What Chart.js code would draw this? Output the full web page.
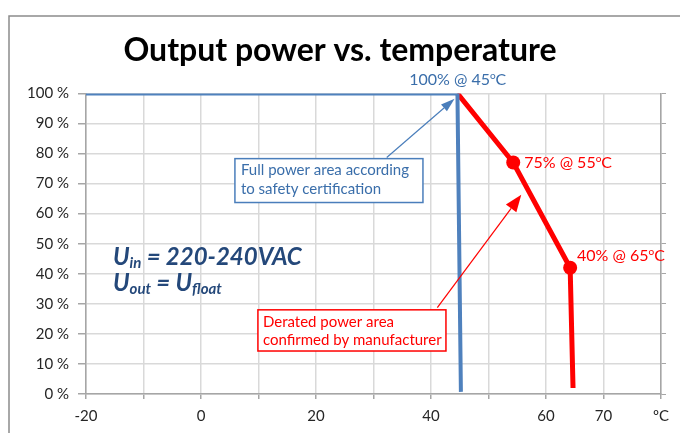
<!DOCTYPE html>
<html>
<head>
<meta charset="utf-8">
<script src="https://cdn.jsdelivr.net/npm/chart.js@4.4.1/dist/chart.umd.min.js"></script>
<style>
  html, body { margin: 0; padding: 0; background: #fff; }
  #wrap { width: 680px; height: 433px; }
</style>
</head>
<body>
<div id="wrap"><canvas id="chart" width="680" height="433"></canvas></div>
<script>
// full power curve (blue) and derated curve (red)
const fullTemp = [-20, 44.6, 45.2];
const fullPower = [100, 100, 0.7];
const deratedTemp = [44.6, 54.3, 64.2, 64.7];
const deratedPower = [100, 77, 42, 2];
const deratedMarkers = [0, 7, 7, 0];

const xTickLabels = { '-20': '-20', '0': '0', '20': '20', '40': '40', '60': '60', '70': '70', '80': 'ºC' };

const BLUE = '#4f81bd';
const RED = '#ff0000';
const FONT = 'Lato, "Open Sans", sans-serif';

function toPoints(xs, ys) {
  return xs.map((x, i) => ({ x: x, y: ys[i] }));
}

// draw text made of runs, each run may be smaller and shifted (sub/superscript)
function drawRuns(ctx, x, y, runs, base) {
  runs.forEach(r => {
    ctx.font = (base.style || '') + ' ' + (r.size || base.size) + 'px ' + FONT;
    ctx.fillText(r.t, x, y + (r.dy || 0));
    x += ctx.measureText(r.t).width;
  });
}

function arrow(ctx, x1, y1, x2, y2, color, headLen, headW) {
  const ang = Math.atan2(y2 - y1, x2 - x1);
  const bx = x2 - headLen * Math.cos(ang), by = y2 - headLen * Math.sin(ang);
  ctx.strokeStyle = color;
  ctx.fillStyle = color;
  ctx.lineWidth = 1.2;
  ctx.beginPath();
  ctx.moveTo(x1, y1);
  ctx.lineTo(bx, by);
  ctx.stroke();
  ctx.beginPath();
  ctx.moveTo(x2, y2);
  ctx.lineTo(bx + headW / 2 * Math.sin(ang), by - headW / 2 * Math.cos(ang));
  ctx.lineTo(bx - headW / 2 * Math.sin(ang), by + headW / 2 * Math.cos(ang));
  ctx.closePath();
  ctx.fill();
}

const notes = {
  id: 'notes',
  beforeDraw(chart) {
    const ctx = chart.ctx;
    ctx.save();
    ctx.strokeStyle = '#8c8c8c';
    ctx.lineWidth = 1.5;
    ctx.beginPath();
    ctx.moveTo(9, 433);
    ctx.lineTo(9, 16);
    ctx.lineTo(680, 16);
    ctx.stroke();
    ctx.restore();
  },
  afterDatasetsDraw(chart) {
    const ctx = chart.ctx;
    const sx = v => chart.scales.x.getPixelForValue(v);
    const sy = v => chart.scales.y.getPixelForValue(v);
    ctx.save();
    ctx.textBaseline = 'middle';

    // point labels
    ctx.fillStyle = '#3a6eaa';
    drawRuns(ctx, sx(36.2), sy(104.5), [{ t: '100% @ 45' }, { t: 'o', size: 10, dy: -4 }, { t: 'C' }], { size: 16 });
    ctx.fillStyle = RED;
    drawRuns(ctx, sx(56.2), sy(77), [{ t: '75% @ 55' }, { t: 'o', size: 10, dy: -4 }, { t: 'C' }], { size: 16 });
    drawRuns(ctx, sx(65.4), sy(46), [{ t: '40% @ 65' }, { t: 'o', size: 10, dy: -4 }, { t: 'C' }], { size: 16 });

    // boxes
    ctx.lineWidth = 1.5;
    ctx.strokeStyle = '#4a7ebb';
    ctx.fillStyle = '#fff';
    let l = sx(5.9), t = sy(78.3), r = sx(38.6), b = sy(63.7);
    ctx.fillRect(l, t, r - l, b - t);
    ctx.strokeRect(l, t, r - l, b - t);
    ctx.fillStyle = '#3a6eaa';
    ctx.font = '15px ' + FONT;
    ctx.fillText('Full power area according', l + 6, t + 12);
    ctx.fillText('to safety certification', l + 6, t + 31);

    ctx.strokeStyle = RED;
    ctx.fillStyle = '#fff';
    l = sx(9.9); t = sy(28); r = sx(42.6); b = sy(14.3);
    ctx.fillRect(l, t, r - l, b - t);
    ctx.strokeRect(l, t, r - l, b - t);
    ctx.fillStyle = RED;
    ctx.fillText('Derated power area', l + 5, t + 12);
    ctx.fillText('confirmed by manufacturer', l + 5, t + 30);

    // arrows
    arrow(ctx, sx(32.3), sy(78.7), sx(44.1), sy(98.2), '#4a7ebb', 14, 9);
    arrow(ctx, sx(41.1), sy(28.7), sx(55.7), sy(66.3), RED, 17, 13);

    // input / output voltage
    ctx.fillStyle = '#24487a';
    drawRuns(ctx, sx(-15.3), sy(45.4), [{ t: 'U' }, { t: 'in', size: 15, dy: 6 }, { t: ' = 220-240VAC' }], { size: 24, style: 'italic bold' });
    drawRuns(ctx, sx(-15.3), sy(37), [{ t: 'U' }, { t: 'out', size: 15, dy: 6 }, { t: ' = U' }, { t: 'float', size: 15, dy: 6 }], { size: 24, style: 'italic bold' });
    ctx.restore();
  }
};

new Chart(document.getElementById('chart'), {
  type: 'line',
  data: {
    datasets: [
      {
        label: 'Full power',
        data: toPoints(fullTemp, fullPower),
        borderColor: BLUE,
        borderWidth: 4,
        pointRadius: 0,
        tension: 0
      },
      {
        label: 'Derated',
        data: toPoints(deratedTemp, deratedPower),
        borderColor: RED,
        backgroundColor: RED,
        borderWidth: 5,
        pointRadius: deratedMarkers,
        pointBorderWidth: 0,
        tension: 0
      }
    ]
  },
  options: {
    responsive: false,
    animation: false,
    layout: { padding: 0 },
    scales: {
      x: {
        type: 'linear',
        min: -20,
        max: 80,
        afterFit: s => { s.height = 39; },
        afterBuildTicks: s => { s.ticks = [-20, -10, 0, 10, 20, 30, 40, 50, 60, 70, 80].map(v => ({ value: v })); },
        ticks: {
          autoSkip: false,
          maxRotation: 0,
          padding: 8,
          color: '#262626',
          font: { family: FONT, size: 15 },
          callback: v => xTickLabels[String(v)] || ''
        },
        grid: { color: '#d9d9d9', lineWidth: 1.5, tickLength: 5, tickColor: '#a6a6a6' },
        border: { color: '#a6a6a6', width: 1.5 }
      },
      y: {
        min: 0,
        max: 100,
        afterFit: s => { s.width = 86; },
        ticks: {
          stepSize: 10,
          padding: 9,
          color: '#262626',
          font: { family: FONT, size: 15 },
          callback: v => v + ' %'
        },
        grid: { color: '#d9d9d9', lineWidth: 1.5, tickLength: 8, tickColor: '#a6a6a6' },
        border: { color: '#a6a6a6', width: 1.5 }
      },
      y2: {
        position: 'right',
        min: 0,
        max: 100,
        afterFit: s => { s.width = 19; },
        ticks: { stepSize: 10, display: false },
        grid: { drawOnChartArea: false, tickLength: 5, tickColor: '#a6a6a6' },
        border: { color: '#a6a6a6', width: 1.5 }
      }
    },
    plugins: {
      legend: { display: false },
      tooltip: { enabled: false },
      title: {
        display: true,
        text: 'Output power vs. temperature',
        color: '#000',
        font: { family: FONT, size: 32, weight: 'bold' },
        padding: { top: 31, bottom: 24 }
      }
    }
  },
  plugins: [notes]
});
</script>
</body>
</html>
